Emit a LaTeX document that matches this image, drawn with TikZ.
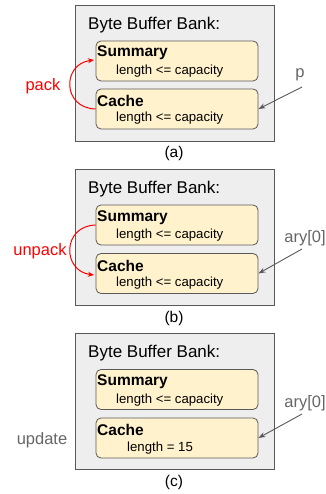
\documentclass[tikz,border=0pt]{standalone}
\usepackage{fontspec}
\setmainfont{Liberation Sans}
\usetikzlibrary{positioning}
\usetikzlibrary{arrows.meta}

\definecolor{bankgray}{HTML}{EEEEEE}
\definecolor{bufyellow}{HTML}{FFF2CC}
\definecolor{linegray}{HTML}{595959}
\definecolor{labelgray}{HTML}{666666}

\begin{document}
\begin{tikzpicture}[x=1pt, y=-1pt,
			bankbox/.style={draw=linegray, fill=bankgray, line width=0.8pt, minimum width=199pt, minimum height=136pt, inner sep=0pt},
			bufbox/.style={draw=linegray, fill=bufyellow, line width=0.8pt, rounded corners=5pt, minimum width=162pt, minimum height=40pt, inner sep=0pt},
			banktitle/.style={font=\fontsize{17}{20}\selectfont, anchor=west, inner sep=0pt},
			bufname/.style={font=\fontsize{15.5}{18}\selectfont\bfseries, anchor=west, inner sep=0pt},
			buffield/.style={font=\fontsize{13.2}{16}\selectfont, anchor=west, inner sep=0pt},
			panelcap/.style={font=\fontsize{15.5}{18}\selectfont, inner sep=0pt},
			oplabel/.style={font=\fontsize{16.5}{20}\selectfont, inner sep=0pt},
			ptrlabel/.style={font=\fontsize{16.5}{20}\selectfont, text=labelgray, inner sep=0pt},
			movearrow/.style={draw=red, line width=1pt, -{Stealth[length=6pt, width=5pt]}},
			ptrarrow/.style={draw=linegray, line width=0.9pt, -{Stealth[length=7pt, width=5pt]}}
		]
			\useasboundingbox (0,0) rectangle (325,494);

			% (a) pack
			\node[bankbox] (bankA) at (174.5,73) {};
			\node[banktitle] (titleA) at (88,25) {Byte Buffer Bank:};
			\node[bufbox] (sumA) at (177,61) {};
			\node[bufbox] (cacheA) at (177,109) {};
			\node[bufname] (sumnameA) at (97,53) {Summary};
			\node[buffield] (sumlenA) at (116,71) {length <= capacity};
			\node[bufname] (cachenameA) at (97,101) {Cache};
			\node[buffield] (cachelenA) at (116,118) {length <= capacity};
			\node[panelcap] (capA) at (174,153) {(a)};
			\node[oplabel, text=red] (packA) at (43,86) {pack};
			\draw[movearrow] (cacheA.west) .. controls (62,108) and (62,64) .. (94,60);
			\node[ptrlabel] (ptrA) at (300,75) {p};
			\coordinate (ptrAfrom) at (302,87);
			\draw[ptrarrow] (ptrAfrom) -- (cacheA.east);

			% (b) unpack
			\node[bankbox] (bankB) at (174.5,237) {};
			\node[banktitle] (titleB) at (88,189) {Byte Buffer Bank:};
			\node[bufbox] (sumB) at (177,225) {};
			\node[bufbox] (cacheB) at (177,273.5) {};
			\node[bufname] (sumnameB) at (97,218) {Summary};
			\node[buffield] (sumlenB) at (116,235) {length <= capacity};
			\node[bufname] (cachenameB) at (97,266) {Cache};
			\node[buffield] (cachelenB) at (116,283) {length <= capacity};
			\node[panelcap] (capB) at (174,318) {(b)};
			\node[oplabel, text=red] (unpackB) at (40,251) {unpack};
			\draw[movearrow] (sumB.west) .. controls (62,226) and (62,271) .. (94,275);
			\node[ptrlabel] (ptrB) at (305,238) {ary[0]};
			\coordinate (ptrBfrom) at (302,249);
			\draw[ptrarrow] (ptrBfrom) -- (cacheB.east);

			% (c) update
			\node[bankbox] (bankC) at (174.5,401.5) {};
			\node[banktitle] (titleC) at (88,353) {Byte Buffer Bank:};
			\node[bufbox] (sumC) at (177,389.5) {};
			\node[bufbox] (cacheC) at (177,438) {};
			\node[bufname] (sumnameC) at (97,382) {Summary};
			\node[buffield] (sumlenC) at (116,400) {length <= capacity};
			\node[bufname] (cachenameC) at (97,430) {Cache};
			\node[buffield] (cachelenC) at (127,448) {length = 15};
			\node[panelcap] (capC) at (174,482) {(c)};
			\node[oplabel, text=labelgray] (updateC) at (42,440) {update};
			\node[ptrlabel] (ptrC) at (305,403) {ary[0]};
			\coordinate (ptrCfrom) at (302,414);
			\draw[ptrarrow] (ptrCfrom) -- (cacheC.east);
		\end{tikzpicture}
\end{document}
